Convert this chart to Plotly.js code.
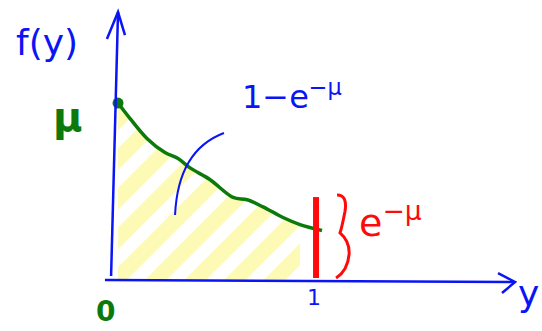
<!DOCTYPE html>
<html>
<head>
<meta charset="utf-8">
<script src="https://cdn.plot.ly/plotly-3.0.1.min.js"></script>
<style>
  html, body { margin: 0; padding: 0; background: #ffffff; }
  #plot { width: 542px; height: 331px; }
</style>
</head>
<body>
<div id="plot"></div>
<script>
// Density sketch: f(y) decays from mu at y = 0; shaded area on [0, 1] is 1 - e^{-mu}
const yVals = [0, 0.06, 0.146, 0.237, 0.303, 0.364, 0.465, 0.581, 0.652, 0.732, 0.833, 0.919, 1.03];
const fVals = [1.50, 1.37, 1.20, 1.08, 1.03, 0.95, 0.85, 0.70, 0.68, 0.62, 0.53, 0.47, 0.42];
const shadeEnd = 0.93;          // hatching stops just before y = 1
const tickLabels = ['0', '1'];
const muLabel = 'μ';
const areaLabel = '1−e<sup>−μ</sup>';
const tailLabel = 'e<sup>−μ</sup>';

const BLUE = '#0a14f5';
const GREEN = '#0b7a0b';
const RED = '#ff0a0a';
const FONT = 'DejaVu Sans';

// shaded part of the curve
const shadeX = [], shadeF = [];
yVals.forEach((y, i) => { if (y <= shadeEnd) { shadeX.push(y); shadeF.push(fVals[i]); } });

const traces = [
  {
    x: shadeX, y: shadeF, type: 'scatter', mode: 'lines',
    line: { width: 0, shape: 'spline' },
    fill: 'tozeroy', fillcolor: 'rgba(0,0,0,0)',
    fillpattern: { shape: '/', fgcolor: '#fdfab6', bgcolor: 'rgba(255,255,255,0)', size: 28, solidity: 0.55 },
    hoverinfo: 'skip'
  },
  {
    x: yVals, y: fVals, type: 'scatter', mode: 'lines',
    line: { color: GREEN, width: 3.5, shape: 'spline' },
    hoverinfo: 'skip'
  },
  {
    x: [yVals[0]], y: [fVals[0]], type: 'scatter', mode: 'markers',
    marker: { color: GREEN, size: 11 },
    hoverinfo: 'skip'
  }
];

const shapes = [
  // vertical axis and arrow
  { type: 'line', xref: 'x', yref: 'y', x0: -0.035, y0: 0.034, x1: 0, y1: 2.271, line: { color: BLUE, width: 2.5 } },
  { type: 'path', xref: 'x', yref: 'y', path: 'M -0.056 2.042 L 0 2.271 L 0.035 2.076', line: { color: BLUE, width: 2.5 } },
  // horizontal axis and arrow
  { type: 'line', xref: 'x', yref: 'y', x0: -0.066, y0: 0, x1: 2.005, y1: -0.017, line: { color: BLUE, width: 2.5 } },
  { type: 'path', xref: 'x', yref: 'y', path: 'M 1.919 0.059 L 2.005 -0.017 L 1.939 -0.110', line: { color: BLUE, width: 2.5 } },
  // pointer from the area label into the shaded region
  { type: 'path', xref: 'x', yref: 'y', path: 'M 0.535 1.246 Q 0.303 1.10 0.288 0.551', line: { color: BLUE, width: 2 } },
  // tail mass marker at y = 1
  { type: 'line', xref: 'x', yref: 'y', x0: 1, y0: 0.703, x1: 1, y1: 0.017, line: { color: RED, width: 6 } },
  // brace
  { type: 'path', xref: 'x', yref: 'y',
    path: 'M 1.106 0.720 Q 1.16 0.72 1.146 0.58 Q 1.13 0.44 1.121 0.40 Q 1.17 0.33 1.167 0.22 Q 1.16 0.08 1.101 0.017',
    line: { color: RED, width: 3 } }
];

const annotations = [
  { x: -0.359, y: 2.017, text: 'f(y)', font: { family: FONT, size: 36, color: BLUE } },
  { x: -0.253, y: 1.381, text: muLabel, font: { family: FONT, size: 40, color: GREEN, weight: 'bold' } },
  { x: -0.061, y: -0.263, text: tickLabels[0], font: { family: FONT, size: 28, color: GREEN, weight: 'bold' } },
  { x: 0.99, y: -0.144, text: tickLabels[1], font: { family: FONT, size: 22, color: BLUE } },
  { x: 2.071, y: -0.110, text: 'y', font: { family: FONT, size: 36, color: BLUE } },
  { x: 0.879, y: 1.568, text: areaLabel, font: { family: FONT, size: 32, color: BLUE } },
  { x: 1.374, y: 0.508, text: tailLabel, font: { family: FONT, size: 38, color: RED } }
].map(a => Object.assign({ xref: 'x', yref: 'y', showarrow: false, xanchor: 'center', yanchor: 'middle' }, a));

const layout = {
  width: 542, height: 331,
  margin: { l: 0, r: 0, t: 0, b: 0 },
  paper_bgcolor: '#ffffff', plot_bgcolor: '#ffffff',
  showlegend: false,
  xaxis: { range: [-0.596, 2.141], visible: false, fixedrange: true },
  yaxis: { range: [-0.432, 2.373], visible: false, fixedrange: true },
  shapes: shapes,
  annotations: annotations
};

Plotly.newPlot('plot', traces, layout, { staticPlot: true, displayModeBar: false });
</script>
</body>
</html>
